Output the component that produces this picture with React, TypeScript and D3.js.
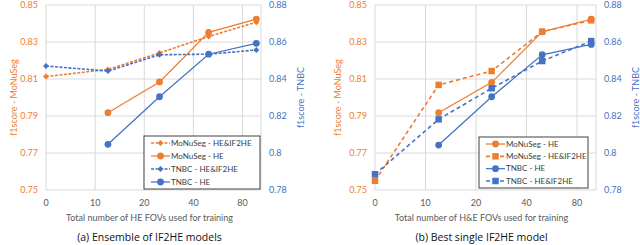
import React, { useRef, useEffect } from "react";
import * as d3 from "d3";

// x axis is drawn on a stretched scale: 0, 10, 20, 40, 80 equally spaced
const xTicks = [0, 10, 20, 40, 80];
const xEnd = 95;
const xAll = [0, 12.6, 26.2, 52.4, 91.2];
const xLate = [12.6, 26.2, 52.4, 91.2];

const leftTicks = [0.75, 0.77, 0.79, 0.81, 0.83, 0.85];
const rightTicks = [0.78, 0.8, 0.82, 0.84, 0.86, 0.88];

// (a) ensemble
const aMonusegEnsemble = [0.8113, 0.8152, 0.8241, 0.833, 0.8407];
const aMonusegHE = [0.7918, 0.8084, 0.8352, 0.8424];
const aTnbcEnsemble = [0.847, 0.8443, 0.8531, 0.8534, 0.8557];
const aTnbcHE = [0.8047, 0.8304, 0.8534, 0.8593];

// (b) best single model
const bMonusegHE = [0.7918, 0.8082, 0.8355, 0.8423];
const bMonusegBest = [0.755, 0.8068, 0.8143, 0.8356, 0.8417];
const bTnbcHE = [0.8043, 0.8304, 0.8531, 0.8587];
const bTnbcBest = [0.7885, 0.8182, 0.835, 0.8497, 0.8605];

const ORANGE = "#ED7D31";
const BLUE = "#4472C4";
const FONT = "Lato, 'Liberation Sans', sans-serif";

type Marker = "circle" | "diamond" | "square";

interface Series {
  name: string;
  xs: number[];
  ys: number[];
  axis: "left" | "right";
  color: string;
  dash: string | null;
  marker: Marker;
}

interface PanelCfg {
  left: number;
  right: number;
  top: number;
  bottom: number;
  titleOffset: number;
  xTitle: string;
  caption: string;
  series: Series[];
  legend: { x: number; y: number; w: number; h: number };
}

const panels: PanelCfg[] = [
  {
    left: 46,
    right: 261,
    top: 5,
    bottom: 190,
    titleOffset: 32,
    xTitle: "Total number of HE FOVs used for training",
    caption: "(a) Ensemble of IF2HE models",
    legend: { x: 144, y: 136, w: 116, h: 53 },
    series: [
      { name: "MoNuSeg - HE&IF2HE", xs: xAll, ys: aMonusegEnsemble, axis: "left", color: ORANGE, dash: "3,1.5", marker: "diamond" },
      { name: "MoNuSeg - HE", xs: xLate, ys: aMonusegHE, axis: "left", color: ORANGE, dash: null, marker: "circle" },
      { name: "TNBC - HE&IF2HE", xs: xAll, ys: aTnbcEnsemble, axis: "right", color: BLUE, dash: "3,1.5", marker: "diamond" },
      { name: "TNBC - HE", xs: xLate, ys: aTnbcHE, axis: "right", color: BLUE, dash: null, marker: "circle" },
    ],
  },
  {
    left: 375,
    right: 596,
    top: 5,
    bottom: 190,
    titleOffset: 37,
    xTitle: "Total number of H&E FOVs used for training",
    caption: "(b) Best single IF2HE model",
    legend: { x: 479, y: 137, w: 109, h: 51 },
    series: [
      { name: "MoNuSeg - HE", xs: xLate, ys: bMonusegHE, axis: "left", color: ORANGE, dash: null, marker: "circle" },
      { name: "MoNuSeg - HE&IF2HE", xs: xAll, ys: bMonusegBest, axis: "left", color: ORANGE, dash: "4,3", marker: "square" },
      { name: "TNBC - HE", xs: xLate, ys: bTnbcHE, axis: "right", color: BLUE, dash: null, marker: "circle" },
      { name: "TNBC - HE&IF2HE", xs: xAll, ys: bTnbcBest, axis: "right", color: BLUE, dash: "4,3", marker: "square" },
    ],
  },
];

const drawMarker = (
  g: d3.Selection<SVGGElement, unknown, null, undefined>,
  marker: Marker,
  cx: number,
  cy: number,
  color: string
) => {
  if (marker === "circle") {
    g.append("circle").attr("cx", cx).attr("cy", cy).attr("r", 3.4).attr("fill", color);
  } else if (marker === "square") {
    g.append("path")
      .attr("d", d3.symbol().type(d3.symbolSquare).size(42)()!)
      .attr("transform", `translate(${cx},${cy})`)
      .attr("fill", color);
  } else {
    g.append("path")
      .attr("d", d3.symbol().type(d3.symbolSquare).size(18)()!)
      .attr("transform", `translate(${cx},${cy}) rotate(45)`)
      .attr("fill", color);
  }
};

const drawPanel = (
  svg: d3.Selection<SVGSVGElement, unknown, null, undefined>,
  p: PanelCfg
) => {
  const g = svg.append("g");
  const step = (p.right - p.left) / 4.375;
  const x = d3
    .scaleLinear()
    .domain([...xTicks, xEnd])
    .range([0, 1, 2, 3, 4, 4.375].map((k) => p.left + k * step));
  const yL = d3.scaleLinear().domain([0.75, 0.85]).range([p.bottom, p.top]);
  const yR = d3.scaleLinear().domain([0.78, 0.88]).range([p.bottom, p.top]);

  // gridlines
  g.selectAll(".hgrid")
    .data(leftTicks)
    .join("line")
    .attr("x1", p.left)
    .attr("x2", p.right)
    .attr("y1", (d) => yL(d))
    .attr("y2", (d) => yL(d))
    .attr("stroke", "#D9D9D9");
  g.selectAll(".vgrid")
    .data([...xTicks, xEnd])
    .join("line")
    .attr("x1", (d) => x(d))
    .attr("x2", (d) => x(d))
    .attr("y1", p.top)
    .attr("y2", p.bottom)
    .attr("stroke", "#D9D9D9");

  // tick labels
  g.selectAll(".ly")
    .data(leftTicks)
    .join("text")
    .attr("x", p.left - 8)
    .attr("y", (d) => yL(d))
    .attr("dy", "0.35em")
    .attr("text-anchor", "end")
    .attr("fill", ORANGE)
    .style("font-size", "9px")
    .text((d) => d3.format(".2f")(d));
  g.selectAll(".ry")
    .data(rightTicks)
    .join("text")
    .attr("x", p.right + 8)
    .attr("y", (d) => yR(d))
    .attr("dy", "0.35em")
    .attr("fill", BLUE)
    .style("font-size", "9px")
    .text((d) => String(+d.toFixed(2)));
  g.selectAll(".xl")
    .data(xTicks)
    .join("text")
    .attr("x", (d) => x(d))
    .attr("y", p.bottom + 16)
    .attr("text-anchor", "middle")
    .attr("fill", "#595959")
    .style("font-size", "9px")
    .text((d) => String(d));

  // axis titles
  const cx = (p.left + p.right) / 2;
  const cy = (p.top + p.bottom) / 2;
  g.append("text")
    .attr("transform", `translate(${p.left - p.titleOffset},${cy}) rotate(-90)`)
    .attr("text-anchor", "middle")
    .attr("dy", "0.35em")
    .attr("fill", ORANGE)
    .style("font-size", "9px")
    .text("f1score - MoNuSeg");
  g.append("text")
    .attr("transform", `translate(${p.right + 40},${cy}) rotate(-90)`)
    .attr("text-anchor", "middle")
    .attr("dy", "0.35em")
    .attr("fill", BLUE)
    .style("font-size", "9px")
    .text("f1score - TNBC");
  g.append("text")
    .attr("x", cx - 4)
    .attr("y", 221)
    .attr("text-anchor", "middle")
    .attr("fill", "#595959")
    .style("font-size", "9px")
    .text(p.xTitle);
  g.append("text")
    .attr("x", cx - 4)
    .attr("y", 241)
    .attr("text-anchor", "middle")
    .attr("fill", "#111")
    .style("font-family", "'Open Sans', sans-serif")
    .style("font-size", "10.5px")
    .text(p.caption);

  // series
  p.series.forEach((s) => {
    const y = s.axis === "left" ? yL : yR;
    const pts: [number, number][] = s.xs.map((v, i) => [x(v), y(s.ys[i])]);
    g.append("path")
      .datum(pts)
      .attr("fill", "none")
      .attr("stroke", s.color)
      .attr("stroke-width", s.dash ? 1.6 : 1.25)
      .attr("stroke-dasharray", s.dash)
      .attr("d", d3.line());
    pts.forEach(([px, py]) => drawMarker(g, s.marker, px, py, s.color));
  });

  // legend
  const lg = g.append("g");
  lg.append("rect")
    .attr("x", p.legend.x)
    .attr("y", p.legend.y)
    .attr("width", p.legend.w)
    .attr("height", p.legend.h)
    .attr("fill", "white")
    .attr("stroke", "#404040");
  const rowH = (p.legend.h - 14) / 3;
  p.series.forEach((s, i) => {
    const ry = p.legend.y + 7 + i * rowH;
    const lx = p.legend.x + 7;
    lg.append("line")
      .attr("x1", lx)
      .attr("x2", lx + 19)
      .attr("y1", ry)
      .attr("y2", ry)
      .attr("stroke", s.color)
      .attr("stroke-width", s.dash ? 1.6 : 1.25)
      .attr("stroke-dasharray", s.dash);
    drawMarker(lg, s.marker, lx + 9.5, ry, s.color);
    lg.append("text")
      .attr("x", lx + 20)
      .attr("y", ry)
      .attr("dy", "0.35em")
      .attr("fill", "#404040")
      .style("font-size", "8px")
      .text(s.name);
  });
};

const App: React.FC = () => {
  const svgRef = useRef<SVGSVGElement>(null);

  useEffect(() => {
    if (!svgRef.current) return;
    const svg = d3.select(svgRef.current);
    svg.selectAll("*").remove();
    svg.style("font-family", FONT);
    panels.forEach((p) => drawPanel(svg, p));
  }, []);

  return (
    <svg
      ref={svgRef}
      width={640}
      height={245}
      style={{ position: "absolute", left: 0, top: 0, background: "white" }}
    />
  );
};

export default App;
